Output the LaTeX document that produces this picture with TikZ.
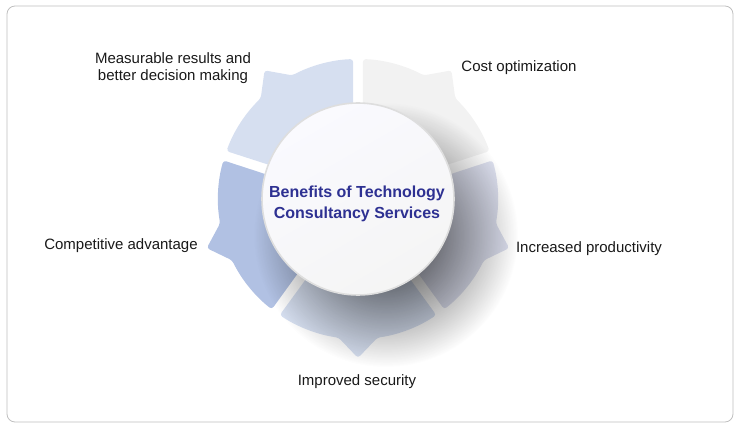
\documentclass[tikz,border=0pt]{standalone}
\usepackage{fontspec}
\setmainfont{Liberation Sans}
\usetikzlibrary{fadings}
\definecolor{segblue}{HTML}{D6DFF0}
\definecolor{segdark}{HTML}{B1C1E3}
\definecolor{seggrey}{HTML}{F2F2F2}
\definecolor{seglav}{HTML}{DCDFEE}
\definecolor{titleblue}{HTML}{2E3192}
\tikzfading[name=shadowfade, inner color=transparent!0, outer color=transparent!100]
\begin{document}
\begin{tikzpicture}[x=1pt, y=1pt, line join=round, line cap=round,
  lbl/.style={font=\fontsize{15}{17}\selectfont, text=black!90, align=center, inner sep=0pt},
  hubstyle/.style={circle, minimum size=192pt, inner sep=0pt, draw=black!13, line width=1.6pt,
    top color=black!8!blue!2, bottom color=white!96!black, shading angle=30}]
\useasboundingbox (0,0) rectangle (740,431);
\draw[black!25, line width=0.8pt, rounded corners=8pt] (7,9) rectangle (733,425);
% ring of five pieces
\begin{scope}[shift={(358,232)}]
\foreach \s/\col in {18/seggrey, 90/segblue, 162/segdark, 234/segblue, 306/seglav}{
  \pgfmathsetmacro{\m}{\s+36}
  \pgfmathsetmacro{\e}{\s+72}
  \fill[\col, rounded corners=3pt] (\s+4.8:60) -- (\s+2:140) arc[start angle=\s+2, end angle=\m-8, radius=140]
    -- (\m:159) -- (\m+8:140) arc[start angle=\m+8, end angle=\e-2, radius=140] -- (\e-4.8:60) -- cycle;
}
% shadow under the hub
\fill[black, opacity=0.8, path fading=shadowfade] (28,-36) circle (132);
\end{scope}
\node[hubstyle] (hub) at (358,232) {};
\node[font=\fontsize{16}{21}\selectfont\bfseries, text=titleblue, align=center] (title) at (357,227)
  {Benefits of Technology\\Consultancy Services};
\node[lbl] (measure) at (173,363) {Measurable results and\\better decision making};
\node[lbl] (cost) at (519,363) {Cost optimization};
\node[lbl] (prod) at (589,182) {Increased productivity};
\node[lbl] (comp) at (121,185) {Competitive advantage};
\node[lbl] (secur) at (357,49) {Improved security};
\end{tikzpicture}
\end{document}
